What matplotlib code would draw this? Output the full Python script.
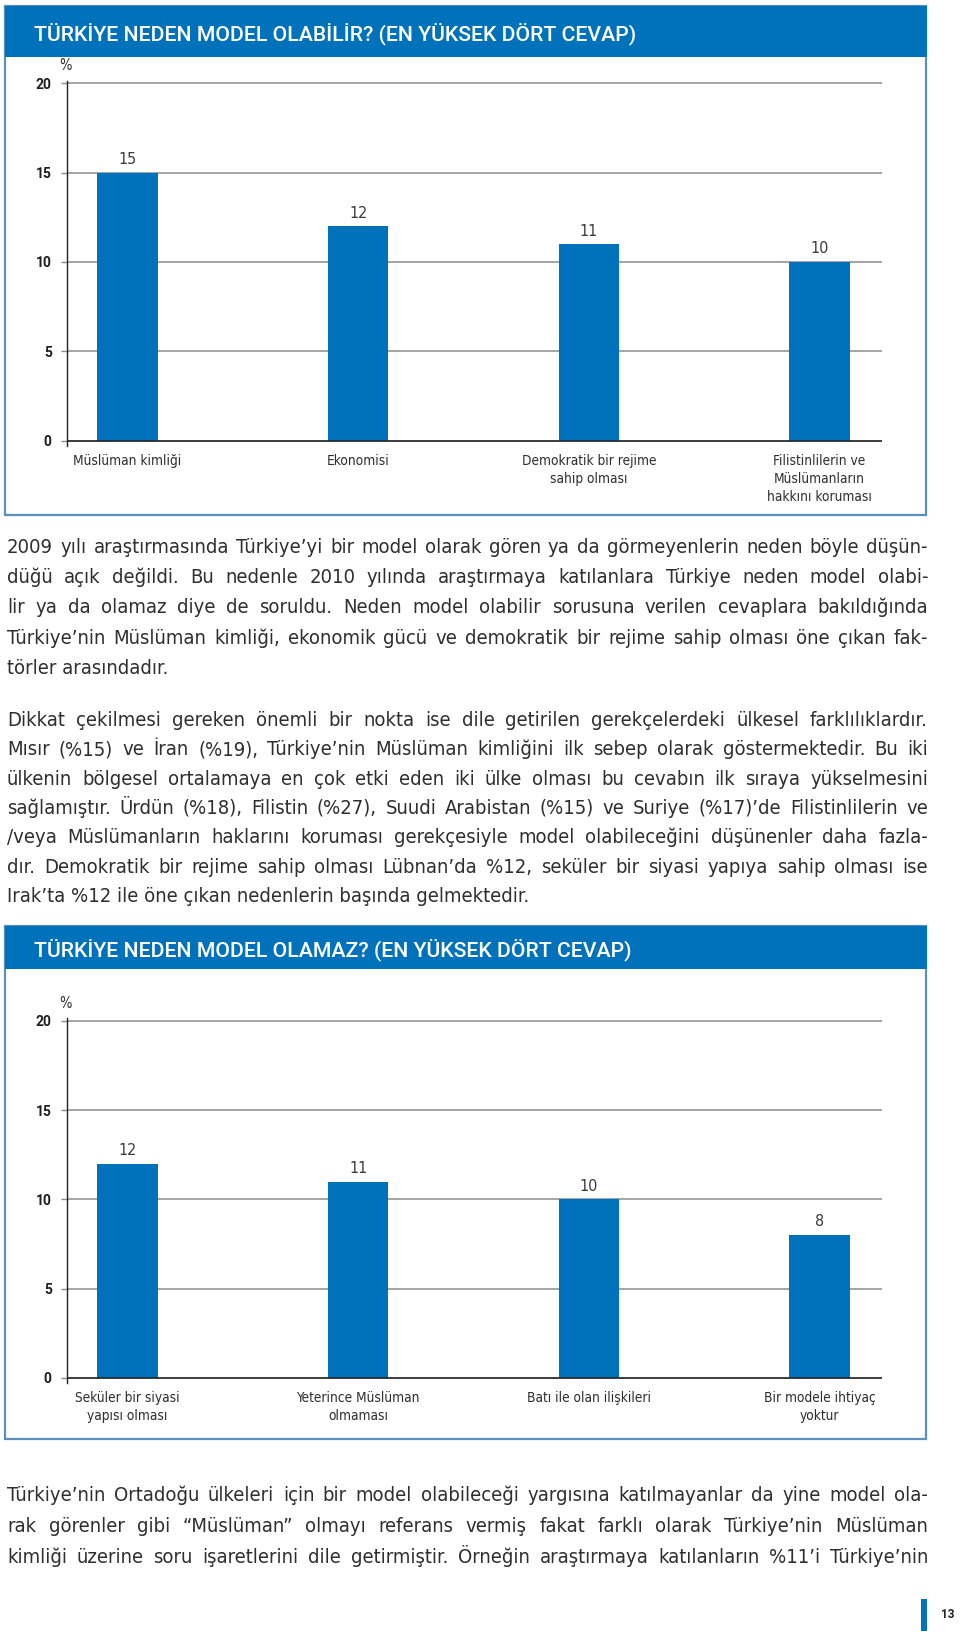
import matplotlib
matplotlib.use('Agg')
import matplotlib.pyplot as plt
from matplotlib import font_manager
from matplotlib.font_manager import FontProperties
from matplotlib.patches import Rectangle

W, H = 960, 1636
BLUE = '#0072bc'
FRAME = '#5a8fbe'
TEXT = '#2e2e2e'
GRID = '#8c8c8c'

plt.rcParams['font.family'] = ['Roboto', 'DejaVu Sans']

# chart data
title_1 = 'TÜRKİYE NEDEN MODEL OLABİLİR? (EN YÜKSEK DÖRT CEVAP)'
cats_1 = ['Müslüman kimliği', 'Ekonomisi', 'Demokratik bir rejime\nsahip olması',
          'Filistinlilerin ve\nMüslümanların\nhakkını koruması']
vals_1 = [15, 12, 11, 10]

title_2 = 'TÜRKİYE NEDEN MODEL OLAMAZ? (EN YÜKSEK DÖRT CEVAP)'
cats_2 = ['Seküler bir siyasi\nyapısı olması', 'Yeterince Müslüman\nolmaması',
          'Batı ile olan ilişkileri', 'Bir modele ihtiyaç\nyoktur']
vals_2 = [12, 11, 10, 8]

yticks = [0, 5, 10, 15, 20]

# page text
para_1 = [
    '2009 yılı araştırmasında Türkiye’yi bir model olarak gören ya da görmeyenlerin neden böyle düşün-',
    'düğü açık değildi. Bu nedenle 2010 yılında araştırmaya katılanlara Türkiye neden model olabi-',
    'lir ya da olamaz diye de soruldu. Neden model olabilir sorusuna verilen cevaplara bakıldığında',
    'Türkiye’nin Müslüman kimliği, ekonomik gücü ve demokratik bir rejime sahip olması öne çıkan fak-',
    'törler arasındadır.',
]
para_2 = [
    'Dikkat çekilmesi gereken önemli bir nokta ise dile getirilen gerekçelerdeki ülkesel farklılıklardır.',
    'Mısır (%15) ve İran (%19), Türkiye’nin Müslüman kimliğini ilk sebep olarak göstermektedir. Bu iki',
    'ülkenin bölgesel ortalamaya en çok etki eden iki ülke olması bu cevabın ilk sıraya yükselmesini',
    'sağlamıştır. Ürdün (%18), Filistin (%27), Suudi Arabistan (%15) ve Suriye (%17)’de Filistinlilerin ve',
    '/veya Müslümanların haklarını koruması gerekçesiyle model olabileceğini düşünenler daha fazla-',
    'dır. Demokratik bir rejime sahip olması Lübnan’da %12, seküler bir siyasi yapıya sahip olması ise',
    'Irak’ta %12 ile öne çıkan nedenlerin başında gelmektedir.',
]
para_3 = [
    'Türkiye’nin Ortadoğu ülkeleri için bir model olabileceği yargısına katılmayanlar da yine model ola-',
    'rak görenler gibi “Müslüman” olmayı referans vermiş fakat farklı olarak Türkiye’nin Müslüman',
    'kimliği üzerine soru işaretlerini dile getirmiştir. Örneğin araştırmaya katılanların %11’i Türkiye’nin',
]
page_no = '13'

# look for a narrow face for the body text (the original uses a condensed sans)
body_file = None
for f in font_manager.fontManager.ttflist:
    narrow = (str(f.stretch) in ('condensed', 'semi-condensed', '300', '400')
              or 'Narrow' in f.name or 'Condensed' in f.name)
    if narrow and f.style == 'normal' and str(f.weight) in ('400', 'normal', 'regular'):
        body_file = f.fname
        break


def body_font(size, fallback_size=None):
    if body_file:
        return FontProperties(fname=body_file, size=size)
    return FontProperties(family='Roboto', size=fallback_size or size)


fig = plt.figure(figsize=(W / 100, H / 100), dpi=100)
renderer = fig.canvas.get_renderer()


def fx(x):
    return x / W


def fy(y):
    return 1 - y / H


def rect(x0, y0, x1, y1, **kw):
    r = Rectangle((fx(x0), fy(y1)), fx(x1) - fx(x0), fy(y0) - fy(y1),
                  transform=fig.transFigure, **kw)
    fig.patches.append(r)


def chart(title, cats, vals, top, head_bot, bottom, y20, y0):
    rect(5, top, 926, bottom, fill=False, edgecolor=FRAME, lw=1.6)
    rect(5, top, 927, head_bot, color=BLUE, lw=0)
    fig.text(fx(34), fy((top + head_bot) / 2 + 10), title, color='white',
             fontsize=15.3, fontweight='medium', va='baseline')
    fig.text(fx(65), fy(y20 - 18), '%', color=TEXT, fontproperties=body_font(10.5, 10),
             ha='center', va='center')

    ppu = (y0 - y20) / 20
    ylo, yhi = -0.28, 20.15
    a_top = y0 - yhi * ppu
    a_bot = y0 - ylo * ppu
    ax = fig.add_axes([fx(66.7), fy(a_bot), fx(882) - fx(66.7), (a_bot - a_top) / H])
    ax.set_xlim(-0.2635, 3.2705)
    ax.set_ylim(ylo, yhi)

    bars = ax.bar(range(len(vals)), vals, width=0.262, color=BLUE, zorder=3)
    ax.bar_label(bars, padding=4, color='#3a3a3a', fontproperties=body_font(11.5, 10.5))

    ax.set_yticks(yticks)
    ax.set_yticklabels([str(t) for t in yticks], fontsize=10, fontweight='bold', color='#1e1e1e')
    ax.tick_params(axis='y', length=4.3, width=1, color=GRID, pad=6.5)
    ax.yaxis.grid(True, color=GRID, lw=1.1, zorder=1)
    ax.axhline(0, color='#222222', lw=1.1, zorder=4)

    ax.set_xticks(range(len(cats)))
    ax.set_xticklabels(cats, color=TEXT, linespacing=1.35,
                       fontproperties=body_font(9.8, 9.6))
    ax.tick_params(axis='x', length=0, pad=6)

    for s in ['top', 'right', 'bottom']:
        ax.spines[s].set_visible(False)
    ax.spines['left'].set_color('#222222')
    ax.spines['left'].set_linewidth(1)
    ax.set_axisbelow(True)
    return ax


def paragraph(lines, y_first, step, justify_last=False):
    x0, x1 = 7, 928
    for i, line in enumerate(lines):
        fs = 14.5 if body_file else 13.6
        base = fy(y_first + i * step + 6)
        if i == len(lines) - 1 and not justify_last:
            fig.text(fx(x0), base, line, fontproperties=body_font(fs), color=TEXT, va='baseline')
            continue
        words = line.split()
        while True:
            objs = [fig.text(0, base, w, fontproperties=body_font(fs), color=TEXT, va='baseline')
                    for w in words]
            widths = [o.get_window_extent(renderer).width for o in objs]
            gap = (x1 - x0 - sum(widths)) / (len(words) - 1)
            if gap >= 3.5 or fs < 11:
                break
            for o in objs:
                o.remove()
            fs -= 0.3
        pos = x0
        for o, w in zip(objs, widths):
            o.set_x(fx(pos))
            pos += w + gap


chart(title_1, cats_1, vals_1, 6, 56.7, 515, 83.3, 440.6)
chart(title_2, cats_2, vals_2, 926, 969, 1439, 1021, 1377.7)

paragraph(para_1, 547, 30.2)
paragraph(para_2, 720, 29.3)
paragraph(para_3, 1495, 31, justify_last=True)

rect(921, 1599, 927, 1631, color=BLUE, lw=0)
fig.text(fx(948), fy(1615), page_no, fontsize=8.5, fontweight='bold', color='#222222',
         ha='center', va='center')

fig.savefig('out.png', dpi=100)
